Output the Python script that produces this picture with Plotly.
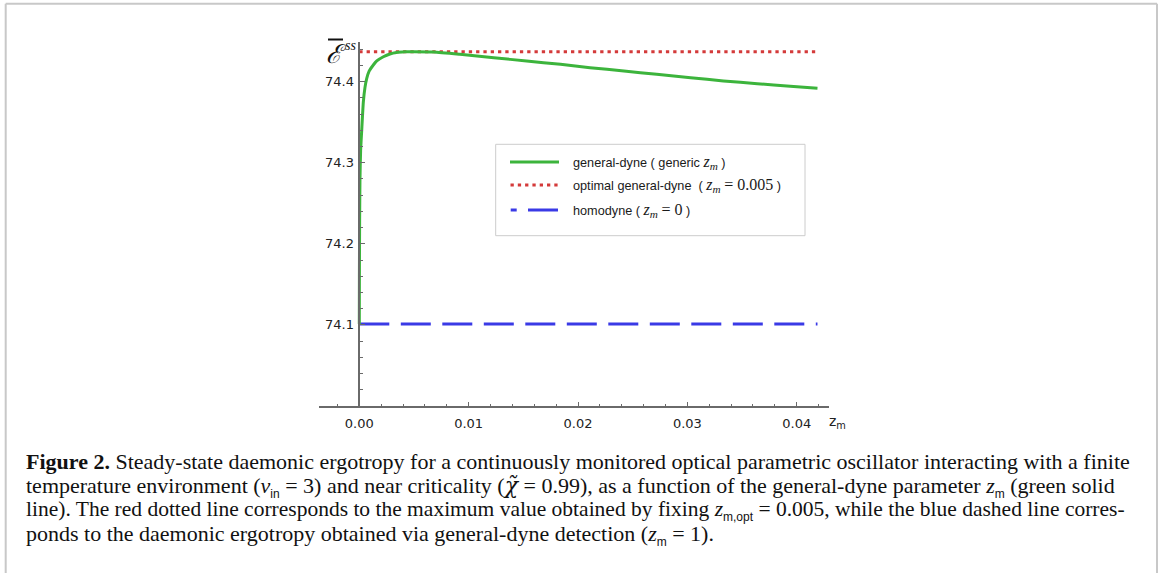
import plotly.graph_objects as go

# ---------------- data ----------------
z_green = [0, 0.00001, 0.00003, 0.00006, 0.00012, 0.00022, 0.00037, 0.00052, 0.00068,
           0.0009, 0.00128, 0.0016, 0.0022, 0.0028, 0.0034, 0.0042, 0.005, 0.0068,
           0.0092, 0.0123, 0.0153, 0.0184, 0.0211, 0.0242, 0.0272, 0.0303, 0.0333,
           0.0364, 0.0394, 0.0419]
E_green = [74.101, 74.16, 74.23, 74.279, 74.315, 74.340, 74.375, 74.393, 74.404,
           74.413, 74.4206, 74.4256, 74.4308, 74.4342, 74.4360, 74.4368, 74.437, 74.4366,
           74.4338, 74.4296, 74.4255, 74.4214, 74.4173, 74.4132, 74.4091, 74.405, 74.4009,
           74.3976, 74.3943, 74.3919]
z_line = [0, 0.0419]
E_opt = [74.437, 74.437]
E_homo = [74.101, 74.101]

x_ticks = [0.0, 0.01, 0.02, 0.03, 0.04]
x_ticktext = ["0.00", "0.01", "0.02", "0.03", "0.04"]
y_ticks = [74.1, 74.2, 74.3, 74.4]
y_ticktext = ["74.1", "74.2", "74.3", "74.4"]

GREEN = "#3cb43c"
RED = "#d43a3a"
BLUE = "#3a3ae6"
AXIS = "#6a6a6a"

W, H = 1165, 573
L, R, T, B = 319, 336, 42, 167
PW, PH = W - L - R, H - T - B


def px(x):
    return (x - L) / PW


def py(y):
    return (H - B - y) / PH


fig = go.Figure()
fig.add_trace(go.Scatter(x=z_line, y=E_homo, mode="lines",
                         line=dict(color=BLUE, width=3, dash="30px,11.5px"),
                         showlegend=False, hoverinfo="skip"))
fig.add_trace(go.Scatter(x=z_line, y=E_opt, mode="lines",
                         line=dict(color=RED, width=3, dash="3.3px,4px"),
                         showlegend=False, hoverinfo="skip"))
fig.add_trace(go.Scatter(x=z_green, y=E_green, mode="lines",
                         line=dict(color=GREEN, width=3, shape="spline", smoothing=0.5),
                         showlegend=False, hoverinfo="skip"))

shapes = []
annotations = []

# figure frame
for (x0, y0, x1, y1) in [(5.7, 3.7, 5.7, 580), (5.7, 3.7, 1157, 3.7), (1157, 3.7, 1157, 580)]:
    shapes.append(dict(type="line", xref="paper", yref="paper",
                       x0=px(x0), y0=py(y0), x1=px(x1), y1=py(y1),
                       line=dict(color="#c8c8c8", width=2)))

# legend box
shapes.append(dict(type="rect", xref="paper", yref="paper",
                   x0=px(495.7), y0=py(144.3), x1=px(805), y1=py(235.7),
                   line=dict(color="#cccccc", width=1), fillcolor="white", layer="above"))
rows = [162.0, 185.0, 210.0]
shapes.append(dict(type="line", xref="paper", yref="paper",
                   x0=px(510), y0=py(rows[0]), x1=px(559), y1=py(rows[0]),
                   line=dict(color=GREEN, width=3)))
shapes.append(dict(type="line", xref="paper", yref="paper",
                   x0=px(510.5), y0=py(rows[1]), x1=px(561), y1=py(rows[1]),
                   line=dict(color=RED, width=3, dash="3.3px,4px")))
shapes.append(dict(type="line", xref="paper", yref="paper",
                   x0=px(510.7), y0=py(rows[2]), x1=px(516.7), y1=py(rows[2]),
                   line=dict(color=BLUE, width=3)))
shapes.append(dict(type="line", xref="paper", yref="paper",
                   x0=px(528), y0=py(rows[2]), x1=px(558), y1=py(rows[2]),
                   line=dict(color=BLUE, width=3)))

SER = "font-family:Liberation Serif;font-size:16px"
zm = f'<span style="{SER}"><i>z<sub>m</sub></i></span>'
leg_texts = [
    f"general-dyne ( generic {zm} )",
    f'optimal general-dyne  ( {zm} <span style="{SER}">= 0.005</span> )',
    f'homodyne ( {zm} <span style="{SER}">= 0</span> )',
]
for yy, t in zip(rows, leg_texts):
    annotations.append(dict(xref="paper", yref="paper", x=px(570.5), y=py(yy),
                            xanchor="left", yanchor="middle", showarrow=False, text=t,
                            font=dict(family="Liberation Sans", size=12.7, color="#1a1a1a")))

# y-axis label (script E with overline, superscript ss)
annotations.append(dict(xref="paper", yref="paper", x=px(335.5), y=py(53.5),
                        xanchor="center", yanchor="middle", showarrow=False,
                        text="<i>ℰ</i>",
                        font=dict(family="DejaVu Serif", size=26, color="#111")))
annotations.append(dict(xref="paper", yref="paper", x=px(342.5), y=py(46),
                        xanchor="left", yanchor="middle", showarrow=False,
                        text="<i>ss</i>",
                        font=dict(family="Liberation Serif", size=14, color="#111")))
shapes.append(dict(type="line", xref="paper", yref="paper",
                   x0=px(328), y0=py(39.5), x1=px(343), y1=py(39.5),
                   line=dict(color="#111", width=2)))

# x-axis label
annotations.append(dict(xref="paper", yref="paper", x=px(827), y=py(422),
                        xanchor="left", yanchor="middle", showarrow=False,
                        text="z<sub>m</sub>",
                        font=dict(family="DejaVu Sans", size=14, color="#222")))

# caption
SANS = "font-family:Liberation Sans;font-size:12px"
CHI = "font-family:DejaVu Serif"
cap_lines = [
    "<b>Figure 2.</b> Steady-state daemonic ergotropy for a continuously monitored optical parametric oscillator interacting with a finite",
    f'temperature environment (<i>ν</i><sub><span style="{SANS}">in</span></sub> = 3) and near criticality (<span style="{CHI}"><i>χ̃</i></span> = 0.99), as a function of the general-dyne parameter <i>z</i><sub><span style="{SANS}">m</span></sub> (green solid',
    f'line). The red dotted line corresponds to the maximum value obtained by fixing <i>z</i><sub><span style="{SANS}">m,opt</span></sub> = 0.005, while the blue dashed line corres-',
    f'ponds to the daemonic ergotropy obtained via general-dyne detection (<i>z</i><sub><span style="{SANS}">m</span></sub> = 1).',
]
cap_y = [462, 486.5, 511, 535]
cap_size = [22, 22, 21.5, 22]
for yy, t, s in zip(cap_y, cap_lines, cap_size):
    annotations.append(dict(xref="paper", yref="paper", x=px(24), y=py(yy),
                            xanchor="left", yanchor="middle", showarrow=False, text=t,
                            font=dict(family="Liberation Serif", size=s, color="#111")))

x0_pos = 359.3
xscale = 10935.0  # px per unit
x_min = -(x0_pos - L) / xscale
x_max = (L + PW - x0_pos) / xscale
y_min = 74.0
y_max = 74.0 + PH / 810.75

fig.update_layout(
    width=W, height=H,
    margin=dict(l=L, r=R, t=T, b=B, pad=0),
    paper_bgcolor="white", plot_bgcolor="white",
    showlegend=False,
    shapes=shapes, annotations=annotations,
    xaxis=dict(range=[x_min, x_max], showgrid=False, zeroline=False,
               showline=True, linecolor=AXIS, linewidth=1.5,
               ticks="inside", ticklen=4.5, tickwidth=1.3, tickcolor=AXIS,
               tickmode="array", tickvals=x_ticks, ticktext=x_ticktext,
               tickfont=dict(family="DejaVu Sans", size=13, color="#222"),
               ticklabelstandoff=5,
               minor=dict(ticks="inside", ticklen=2.5, tickwidth=1.1, tickcolor=AXIS,
                          tickmode="linear", tick0=0, dtick=0.002, showgrid=False)),
    yaxis=dict(range=[y_min, y_max], showgrid=False, zeroline=False,
               anchor="free", position=(x0_pos - L) / PW,
               showline=True, linecolor=AXIS, linewidth=1.5,
               ticks="inside", ticklen=5, tickwidth=1.3, tickcolor=AXIS,
               tickmode="array", tickvals=y_ticks, ticktext=y_ticktext,
               tickfont=dict(family="DejaVu Sans", size=13, color="#222"),
               ticklabelstandoff=2,
               minor=dict(ticks="inside", ticklen=3, tickwidth=1.1, tickcolor=AXIS,
                          tickmode="linear", tick0=74.0, dtick=0.02, showgrid=False)),
)

fig.write_html("out.html", config={"displayModeBar": False},
               post_script="document.body.style.margin='0';")
